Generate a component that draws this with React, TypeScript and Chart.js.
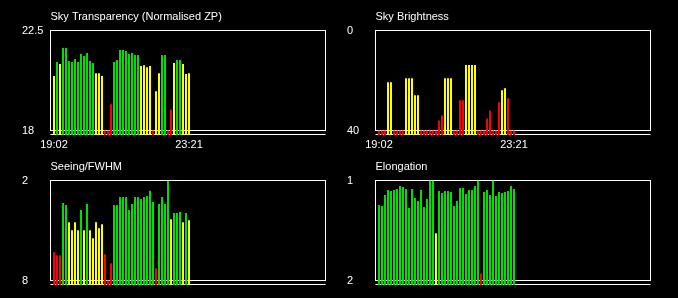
import React, { useEffect, useRef } from "react";
import { Chart, registerables } from "chart.js";

Chart.register(...registerables);

// x ticks (bar index -> time label)
const timeTickIndex = [0, 45];
const timeTickLabels = ["19:02", "23:21"];

// Sky Transparency (Normalised ZP)
const transparency = [
  20.45, 21.08, 20.99, 21.71, 21.71, 21.13, 21.08, 21.22, 21.08, 21.44,
  21.35, 21.49, 21.13, 21.04, 20.58, 20.58, 20.45, 18, 18, 19.18,
  21.08, 21.17, 21.62, 21.62, 21.58, 21.44, 21.49, 21.4, 21.4, 20.9,
  20.94, 20.85, 20.9, 18, 19.77, 20.58, 21.4, 21.4, 18, 18.95,
  21.04, 21.17, 21.17, 20.99, 20.54, 20.58,
];
const transparencyFlags = [
  "y", "g", "y", "g", "g", "g", "g", "g", "g", "g",
  "g", "g", "g", "g", "y", "y", "y", "r", "r", "r",
  "g", "g", "g", "g", "g", "g", "g", "g", "g", "y",
  "y", "y", "y", "r", "y", "y", "g", "g", "r", "r",
  "y", "g", "g", "y", "y", "y",
];

// Sky Brightness
const brightness = [
  40, 40, 40, 20.67, 20.67, 40, 40, 40, 40, 19.06,
  19.06, 19.06, 25.9, 25.9, 40, 40, 40, 40, 40, 40,
  35.97, 33.96, 19.06, 19.06, 19.06, 40, 40, 27.92, 27.92, 13.83,
  13.83, 13.83, 13.83, 40, 40, 40, 35.17, 31.95, 40, 40,
  28.73, 23.89, 23.09, 27.11, 40, 40,
];
const brightnessFlags = [
  "r", "r", "r", "y", "y", "r", "r", "r", "r", "y",
  "y", "y", "y", "y", "r", "r", "r", "r", "r", "r",
  "r", "r", "y", "y", "y", "r", "r", "r", "r", "y",
  "y", "y", "y", "r", "r", "r", "r", "r", "r", "r",
  "r", "y", "y", "r", "r", "r",
];

// Seeing/FWHM
const seeing = [
  6.31, 6.49, 6.49, 3.35, 3.47, 4.5, 4.98, 4.5, 4.98, 3.77,
  4.98, 3.41, 4.98, 5.46, 4.5, 4.86, 4.62, 6.43, 8, 6.97,
  3.47, 3.47, 2.99, 2.99, 2.99, 3.77, 3.41, 2.99, 2.99, 3.11,
  2.99, 2.93, 2.62, 3.29, 7.27, 3.41, 2.99, 3.41, 2.0, 4.32,
  3.95, 3.95, 3.89, 4.5, 3.95, 4.38,
];
const seeingFlags = [
  "r", "r", "r", "g", "g", "y", "y", "y", "y", "g",
  "y", "g", "y", "y", "y", "y", "y", "r", "r", "r",
  "g", "g", "g", "g", "g", "g", "g", "g", "g", "g",
  "g", "g", "g", "g", "r", "g", "g", "g", "g", "y",
  "g", "g", "g", "y", "g", "y",
];

// Elongation
const elongation = [
  1.245, 1.255, 1.144, 1.094, 1.104, 1.094, 1.084, 1.054, 1.064, 1.084,
  1.275, 1.084, 1.174, 1.205, 1.094, 1.265, 1.185, 1.0, 1.0, 1.527,
  1.104, 1.124, 1.104, 1.104, 1.114, 1.255, 1.205, 1.074, 1.074, 1.134,
  1.094, 1.094, 1.054, 1.0, 1.93, 1.114, 1.094, 1.144, 1.0, 1.154,
  1.114, 1.124, 1.114, 1.104, 1.054, 1.084,
];
const elongationFlags = [
  "g", "g", "g", "g", "g", "g", "g", "g", "g", "g",
  "g", "g", "g", "g", "g", "g", "g", "g", "g", "y",
  "g", "g", "g", "g", "g", "g", "g", "g", "g", "g",
  "g", "g", "g", "g", "r", "g", "g", "g", "g", "g",
  "g", "g", "g", "g", "g", "g",
];

const COLORS: Record<string, string> = { g: "#00e000", y: "#ffff00", r: "#ff0000" };
const FONT = "'Liberation Sans', Arial, sans-serif";
const TEXT = "#ffffff";

const boxPlugin = {
  id: "panelBox",
  beforeDatasetsDraw(chart: any, _args: any, opts: any) {
    const { ctx, chartArea } = chart;
    const ys = chart.scales.y;
    const top = ys.getPixelForValue(opts.top);
    const bottom = ys.getPixelForValue(opts.bottom);
    ctx.save();
    ctx.strokeStyle = "#ffffff";
    ctx.lineWidth = 1;
    ctx.strokeRect(chartArea.left, top, chartArea.right - chartArea.left, bottom - top);
    ctx.beginPath();
    ctx.moveTo(chartArea.left, chartArea.bottom - 0.5);
    ctx.lineTo(chartArea.right, chartArea.bottom - 0.5);
    ctx.stroke();
    ctx.restore();
  },
};

type PanelProps = {
  title: string;
  values: number[];
  flags: string[];
  yTop: number;
  yBottom: number;
  showX: boolean;
  left: number;
  top: number;
};

function Panel({ title, values, flags, yTop, yBottom, showX, left, top }: PanelProps) {
  const ref = useRef<HTMLCanvasElement | null>(null);
  useEffect(() => {
    if (!ref.current) return;
    const reverse = yTop < yBottom;
    const perPx = Math.abs(yTop - yBottom) / 100;
    const extra = 4.5 * perPx;
    const yMin = reverse ? yTop : yBottom - extra;
    const yMax = reverse ? yBottom + extra : yTop;
    const base = reverse ? yMax : yMin;
    const chart = new Chart(ref.current, {
      type: "bar",
      data: {
        datasets: [
          {
            data: values.map((v, i) => ({ x: i, y: v })),
            backgroundColor: flags.map((f) => COLORS[f]),
            borderWidth: 0,
            inflateAmount: 0,
            barThickness: 2,
            base,
          } as any,
        ],
      },
      plugins: [boxPlugin],
      options: {
        animation: false,
        responsive: false,
        devicePixelRatio: 1,
        layout: { padding: { left: 22, right: 13.5, top: 0, bottom: 0 } },
        plugins: {
          legend: { display: false },
          tooltip: { enabled: false },
          title: {
            display: true,
            text: title,
            align: "start",
            fullSize: false,
            color: TEXT,
            font: { family: FONT, size: 11, weight: "normal" },
            padding: { top: 10.4, bottom: 6.9 },
          },
          panelBox: { top: yTop, bottom: yBottom },
        } as any,
        scales: {
          x: {
            type: "linear",
            min: -7 / 6,
            max: 90.5,
            offset: false,
            grid: { display: false, drawTicks: false },
            border: { display: false },
            afterBuildTicks: (s: any) => {
              s.ticks = timeTickIndex.map((v) => ({ value: v }));
            },
            afterFit: (s: any) => {
              s.height = 13;
            },
            ticks: {
              display: showX,
              autoSkip: false,
              maxRotation: 0,
              padding: 3.7,
              color: TEXT,
              font: { family: FONT, size: 11 },
              callback: (v: any) => {
                const k = timeTickIndex.indexOf(Number(v));
                return k >= 0 ? timeTickLabels[k] : "";
              },
            },
          },
          y: {
            type: "linear",
            reverse,
            min: yMin,
            max: yMax,
            grid: { display: false, drawTicks: false },
            border: { display: false },
            afterBuildTicks: (s: any) => {
              s.ticks = [{ value: yTop }, { value: yBottom }];
            },
            afterFit: (s: any) => {
              s.width = 28.5;
            },
            ticks: {
              crossAlign: "far",
              padding: 0,
              color: TEXT,
              font: { family: FONT, size: 11 },
              callback: (v: any) => String(v),
            },
          },
        },
      } as any,
    });
    return () => chart.destroy();
  }, []);
  return (
    <canvas
      ref={ref}
      width={339}
      height={148}
      style={{ position: "absolute", left, top, width: 339, height: 148 }}
    />
  );
}

export default function App() {
  useEffect(() => {
    document.body.style.background = "#000";
    document.body.style.margin = "0";
    document.body.style.overflow = "hidden";
  }, []);
  return (
    <div
      style={{
        position: "absolute",
        left: 0,
        top: 0,
        width: 678,
        height: 298,
        background: "#000",
        overflow: "hidden",
      }}
    >
      <Panel title="Sky Transparency (Normalised ZP)" values={transparency} flags={transparencyFlags} yTop={22.5} yBottom={18} showX={true} left={0} top={0} />
      <Panel title="Sky Brightness" values={brightness} flags={brightnessFlags} yTop={0} yBottom={40} showX={true} left={325} top={0} />
      <Panel title="Seeing/FWHM" values={seeing} flags={seeingFlags} yTop={2} yBottom={8} showX={false} left={0} top={150} />
      <Panel title="Elongation" values={elongation} flags={elongationFlags} yTop={1} yBottom={2} showX={false} left={325} top={150} />
    </div>
  );
}
